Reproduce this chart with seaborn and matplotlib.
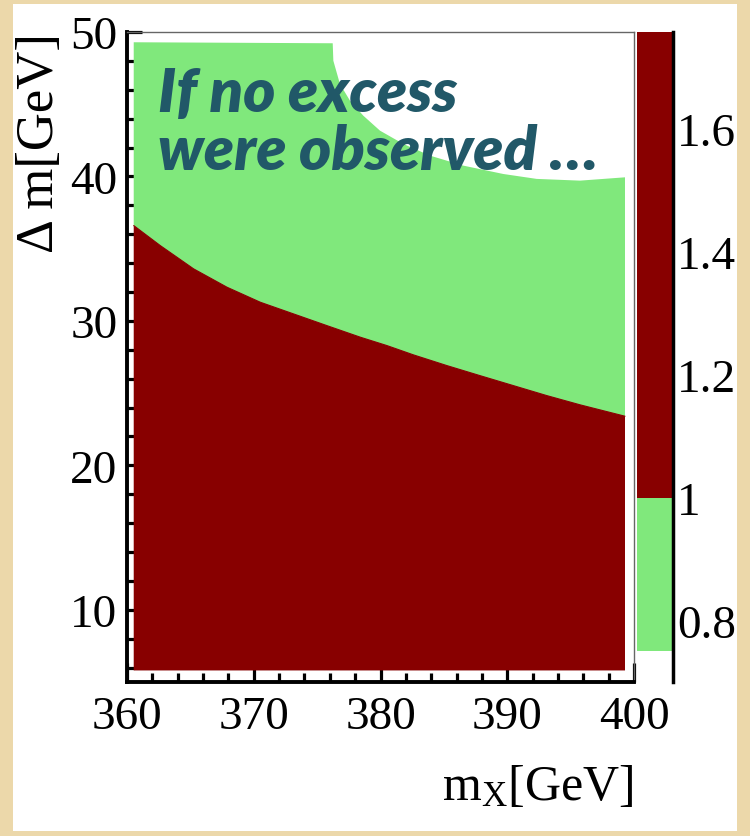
import numpy as np
import seaborn as sns
import matplotlib
matplotlib.use('Agg')
import matplotlib.pyplot as plt
from matplotlib.patches import Rectangle

# boundary where the significance crosses 1 (red below, green above)
mx_edge = [360.53, 362.63, 365.26, 367.89, 370.52, 373.15, 375.78, 378.41, 380.51,
           382.59, 385.22, 387.85, 390.48, 393.11, 395.74, 399.29]
dm_edge = [36.60, 35.21, 33.60, 32.33, 31.29, 30.48, 29.67, 28.87, 28.29,
           27.65, 26.91, 26.21, 25.52, 24.83, 24.19, 23.40]

# upper edge of the scanned region (white = not covered)
mx_top = [360.53, 376.23, 376.28, 376.80, 377.59, 378.64, 379.96, 381.80, 383.91,
          386.53, 389.69, 392.32, 395.74, 399.29]
dm_top = [49.29, 49.22, 48.01, 46.40, 45.25, 44.21, 43.17, 42.25, 41.44,
          40.75, 40.17, 39.83, 39.71, 39.94]

# lower edge of the scan
dm_bottom = 5.8

# colour bar levels
cb_bounds = [0.75, 1.0, 1.758]
cb_colors = ['#80E87C', '#880000']
cb_ticks = [0.8, 1.0, 1.2, 1.4, 1.6]
cb_ticklabels = ['0.8', '1', '1.2', '1.4', '1.6']

x_ticks = [360, 370, 380, 390, 400]
y_ticks = [10, 20, 30, 40, 50]

RED = '#880000'
GREEN = '#80E87C'

sns.set_style('white')
plt.rcParams['font.family'] = ['Liberation Serif', 'DejaVu Serif']
plt.rcParams['text.color'] = 'black'
plt.rcParams['axes.labelcolor'] = 'black'
plt.rcParams['mathtext.fontset'] = 'custom'
plt.rcParams['mathtext.rm'] = 'Liberation Serif'
plt.rcParams['mathtext.it'] = 'Liberation Serif:italic'

fig = plt.figure(figsize=(7.5, 8.37), dpi=100)
fig.patch.set_facecolor('#ECD8AA')
fig.patches.append(Rectangle((13/750, 5/837), 724/750, 827/837, transform=fig.transFigure,
                             facecolor='white', edgecolor='none', zorder=-5))

ax = fig.add_axes([127/750, 1-683/837, 507/750, 650/837])
ax.set_facecolor('white')

# red region: below the edge
rx = [mx_edge[0]] + list(mx_edge) + [mx_edge[-1]]
ry = [dm_bottom] + list(dm_edge) + [dm_bottom]
ax.fill(rx, ry, color=RED, lw=0, zorder=2)
# green region: between edge and top of scan
gx = list(mx_edge) + list(mx_top[::-1])
gy = list(dm_edge) + list(dm_top[::-1])
ax.fill(gx, gy, color=GREEN, lw=0, zorder=1)
sns.lineplot(x=mx_edge, y=dm_edge, color=RED, lw=0.8, ax=ax, zorder=3)

ax.set_xlim(360, 400)
ax.set_ylim(5, 50)
ax.set_xticks(x_ticks)
ax.set_yticks(y_ticks)
ax.set_xticks(np.arange(360, 401, 2), minor=True)
ax.set_yticks(np.arange(6, 51, 2), minor=True)
ax.tick_params(axis='both', which='both', direction='in', colors='black',
               labelsize=34, top=False, right=False, left=True, bottom=True)
ax.tick_params(axis='y', which='major', length=11, width=2.3, pad=7)
ax.tick_params(axis='y', which='minor', length=5, width=2.3)
ax.tick_params(axis='x', which='major', length=14, width=2.3, pad=10)
ax.tick_params(axis='x', which='minor', length=6.5, width=2.3)

for s in ['left', 'bottom']:
    ax.spines[s].set_color('black')
    ax.spines[s].set_linewidth(2.8)
for s in ['top', 'right']:
    ax.spines[s].set_color('#666666')
    ax.spines[s].set_linewidth(1.0)

ax.set_xlabel(r'm$_{\mathrm{X}}$[GeV]', fontsize=36, loc='right', labelpad=18, color='black')
ax.set_ylabel('\u0394 m[GeV]', fontsize=38, loc='top', labelpad=4, color='black')

note_kw = dict(transform=ax.transAxes, fontsize=44, color='#215868', fontweight='heavy',
               fontstyle='italic', family=['Lato', 'DejaVu Sans'], va='baseline',
               ha='left', zorder=5)
ax.text(0.062, 0.8785, 'If no excess', **note_kw)
ax.text(0.062, 0.7892, 'were observed \u2026', **note_kw)

# colour bar
cax = fig.add_axes([637/750, 1-683/837, 36/750, 650/837])
cax.set_facecolor('none')
for lo, hi, c in zip(cb_bounds[:-1], cb_bounds[1:], cb_colors):
    cax.bar(0, hi - lo, bottom=lo, width=1, color=c, lw=0)
cax.set_xlim(-0.5, 0.5)
cax.set_ylim(0.70, 1.758)
cax.set_xticks([])
cax.yaxis.tick_right()
cax.set_yticks(cb_ticks)
cax.set_yticklabels(cb_ticklabels)
cax.tick_params(axis='y', direction='in', length=10, width=2.3, labelsize=34, pad=3,
                left=False, right=True, colors='black')
for s in ['left', 'top', 'bottom']:
    cax.spines[s].set_visible(False)
cax.spines['right'].set_color('black')
cax.spines['right'].set_linewidth(2.5)

fig.savefig('out.png', dpi=100, facecolor=fig.get_facecolor())
